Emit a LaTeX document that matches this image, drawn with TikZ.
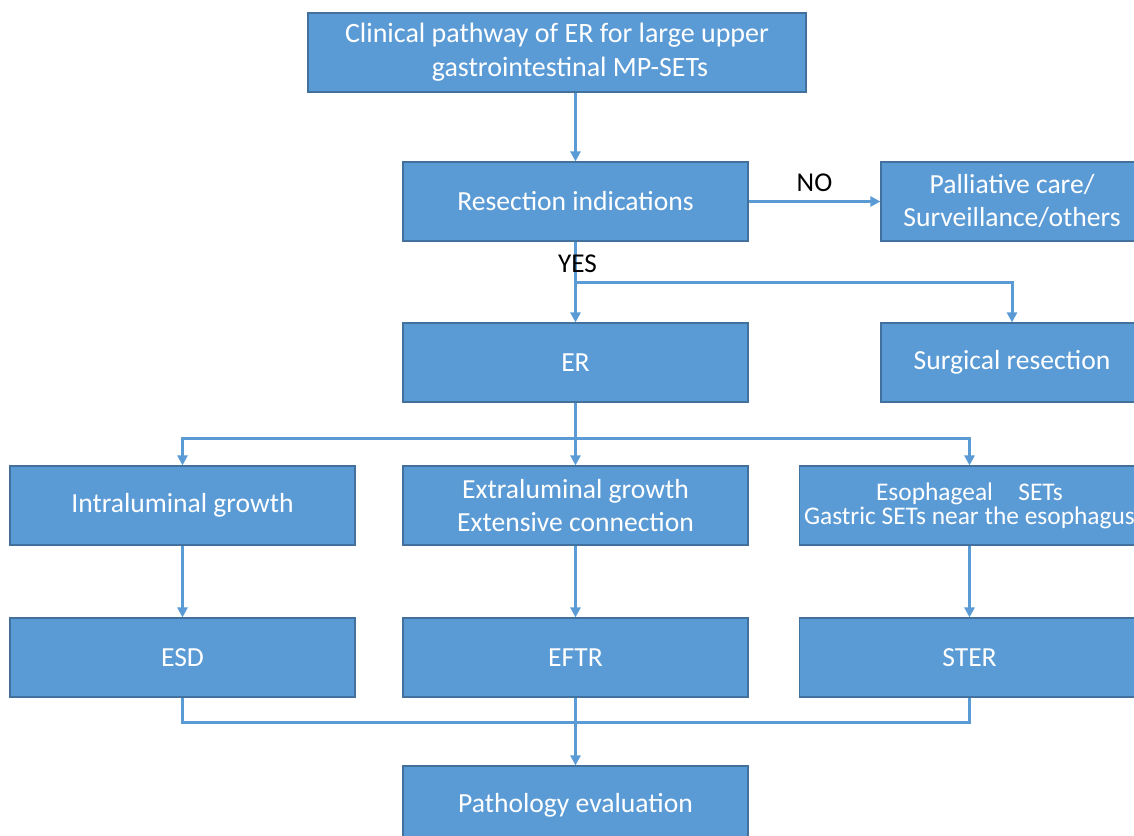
\documentclass[tikz,border=0pt]{standalone}
\usepackage{fontspec}
\setmainfont{Carlito}
\usepackage{xcolor}
\usetikzlibrary{arrows.meta,positioning,calc}
\definecolor{boxblue}{HTML}{5B9BD5}
\definecolor{boxedge}{HTML}{41719C}
\tikzstyle{process} = [rectangle, minimum width=172.5pt, minimum height=39.5pt, inner sep=0pt, text centered, draw=boxedge, line width=0.6pt, fill=boxblue, text=white, font=\fontsize{13.8}{16.5}\selectfont]
\tikzstyle{arrow} = [line width=1.5pt, draw=boxblue, -{Triangle[length=5pt,width=5pt]}]
\tikzstyle{link} = [line width=1.5pt, draw=boxblue]
\tikzstyle{answer} = [font=\fontsize{13.6}{16}\selectfont, text=black]

\begin{document}
\begin{tikzpicture}[x=0.5pt, y=-0.5pt, node distance=196.5pt]
\clip (0,0) rectangle (1134,835);
\node (top) [process, minimum width=249pt, align=center, font=\fontsize{14}{17}\selectfont] at (557,52.5) {Clinical pathway of ER for large upper\\\hspace*{13pt}gastrointestinal MP-SETs};
\node (resect) [process] at (575.5,201.5) {Resection indications};
\node (pall) [process, minimum width=131pt, right of=resect, node distance=218.25pt, align=center] {Palliative care/\\Surveillance/others};
\node (er) [process] at (575.5,362.5) {ER};
\node (surg) [process, minimum width=131pt, right of=er, node distance=218.25pt] {Surgical resection};
\node (extra) [process, align=center] at (575.5,505.5) {Extraluminal growth\\Extensive connection};
\node (intra) [process, left of=extra] {Intraluminal growth};
\node (eso) [process, minimum width=170pt, right of=extra, node distance=197pt, align=center, font=\fontsize{12.7}{12}\selectfont] {Esophageal\quad SETs\\Gastric SETs near the esophagus};
\node (eftr) [process] at (575.5,657.5) {EFTR};
\node (esd) [process, left of=eftr] {ESD};
\node (ster) [process, minimum width=170pt, right of=eftr, node distance=197pt] {STER};
\node (patho) [process] at (575.5,805.5) {Pathology evaluation};

\coordinate (yesfork) at (575.5,282);
\coordinate (erfork) at (575.5,438);
\coordinate (joinpt) at (575.5,722);

\draw [arrow] (resect.north |- top.south) -- (resect.north);
\draw [arrow] (resect.east) -- node [answer, above=1pt] {NO} (pall.west);
\draw [arrow] (resect.south) -- node [answer, pos=0.27, xshift=1pt] {YES} (er.north);
\draw [arrow] (yesfork) -| (surg.north);
\draw [link] (er.south) -- (erfork);
\draw [arrow] (erfork) -| (intra.north);
\draw [arrow] (erfork) -- (extra.north);
\draw [arrow] (erfork) -| (eso.north);
\draw [arrow] (intra) -- (esd);
\draw [arrow] (extra) -- (eftr);
\draw [arrow] (eso) -- (ster);
\draw [link] (esd.south) |- (joinpt);
\draw [link] (ster.south) |- (joinpt);
\draw [arrow] (eftr.south) -- (patho.north);
\end{tikzpicture}
\end{document}
